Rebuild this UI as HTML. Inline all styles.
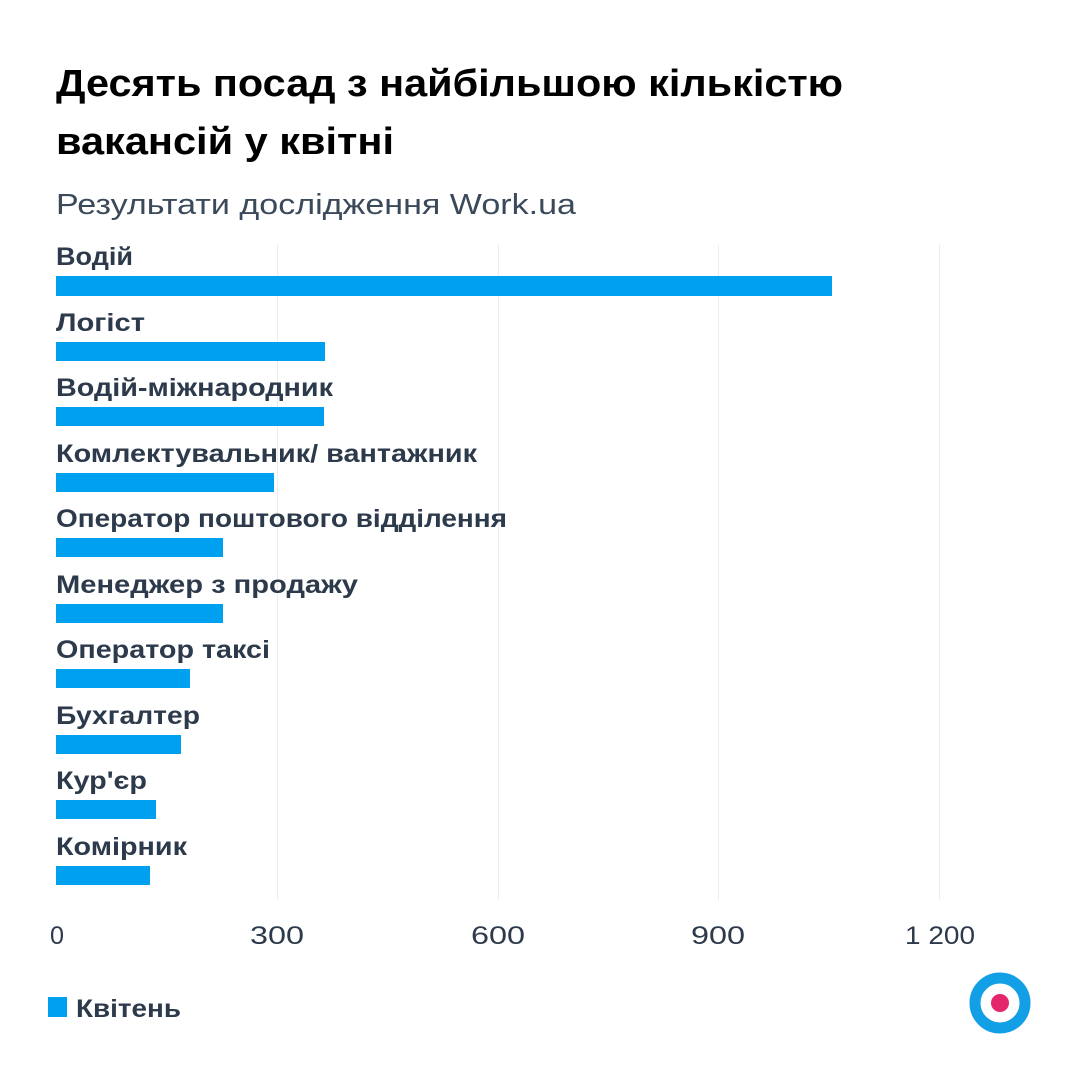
<!DOCTYPE html>
<html><head><meta charset="utf-8"><style>
body{margin:0;background:#fff;}
svg text{font-family:"Liberation Sans",sans-serif;}
</style></head><body>
<svg width="1080" height="1080" viewBox="0 0 1080 1080" xmlns="http://www.w3.org/2000/svg">
<rect width="1080" height="1080" fill="#fff"/>
<text x="56" y="96" font-size="38" font-weight="bold" fill="#000" textLength="787" lengthAdjust="spacingAndGlyphs">Десять посад з найбільшою кількістю</text>
<text x="56" y="154" font-size="38" font-weight="bold" fill="#000" textLength="338" lengthAdjust="spacingAndGlyphs">вакансій у квітні</text>
<text x="56" y="214" font-size="29" fill="#3b4a5a" textLength="520" lengthAdjust="spacingAndGlyphs">Результати дослідження Work.ua</text>
<g stroke="#ececec" stroke-width="1">
<line x1="277.5" y1="245" x2="277.5" y2="900"/>
<line x1="498.5" y1="245" x2="498.5" y2="900"/>
<line x1="718.5" y1="245" x2="718.5" y2="900"/>
<line x1="939.5" y1="245" x2="939.5" y2="900"/>
</g>
<g font-size="25" font-weight="bold" fill="#2c3a4b" lengthAdjust="spacingAndGlyphs">
<text x="56" y="265" textLength="77" lengthAdjust="spacingAndGlyphs">Водій</text>
<text x="56" y="331" textLength="89" lengthAdjust="spacingAndGlyphs">Логіст</text>
<text x="56" y="396" textLength="277" lengthAdjust="spacingAndGlyphs">Водій-міжнародник</text>
<text x="56" y="462" textLength="421" lengthAdjust="spacingAndGlyphs">Комлектувальник/ вантажник</text>
<text x="56" y="527" textLength="451" lengthAdjust="spacingAndGlyphs">Оператор поштового відділення</text>
<text x="56" y="593" textLength="302" lengthAdjust="spacingAndGlyphs">Менеджер з продажу</text>
<text x="56" y="658" textLength="214" lengthAdjust="spacingAndGlyphs">Оператор таксі</text>
<text x="56" y="724" textLength="144" lengthAdjust="spacingAndGlyphs">Бухгалтер</text>
<text x="56" y="789" textLength="91" lengthAdjust="spacingAndGlyphs">Кур'єр</text>
<text x="56" y="855" textLength="131" lengthAdjust="spacingAndGlyphs">Комірник</text>
</g>
<g fill="#00a0f0">
<rect x="56" y="276" width="776" height="20"/>
<rect x="56" y="342" width="269" height="19"/>
<rect x="56" y="407" width="268" height="19"/>
<rect x="56" y="473" width="218" height="19"/>
<rect x="56" y="538" width="167" height="19"/>
<rect x="56" y="604" width="167" height="19"/>
<rect x="56" y="669" width="134" height="19"/>
<rect x="56" y="735" width="125" height="19"/>
<rect x="56" y="800" width="100" height="19"/>
<rect x="56" y="866" width="94" height="19"/>
</g>
<g font-size="25" fill="#2c3a4b">
<text x="50" y="944" textLength="14" lengthAdjust="spacingAndGlyphs">0</text>
<text x="250" y="944" textLength="54" lengthAdjust="spacingAndGlyphs">300</text>
<text x="471" y="944" textLength="54" lengthAdjust="spacingAndGlyphs">600</text>
<text x="691" y="944" textLength="54" lengthAdjust="spacingAndGlyphs">900</text>
<text x="905" y="944" textLength="70" lengthAdjust="spacingAndGlyphs">1 200</text>
</g>
<rect x="48" y="997" width="19" height="20" fill="#00a0f0"/>
<text x="76" y="1017" font-size="25" font-weight="bold" fill="#2c3a4b" textLength="105" lengthAdjust="spacingAndGlyphs">Квітень</text>
<circle cx="1000" cy="1003" r="25" fill="none" stroke="#139fe6" stroke-width="11"/>
<circle cx="1000" cy="1003" r="9" fill="#e3276a"/>
</svg>
</body></html>
